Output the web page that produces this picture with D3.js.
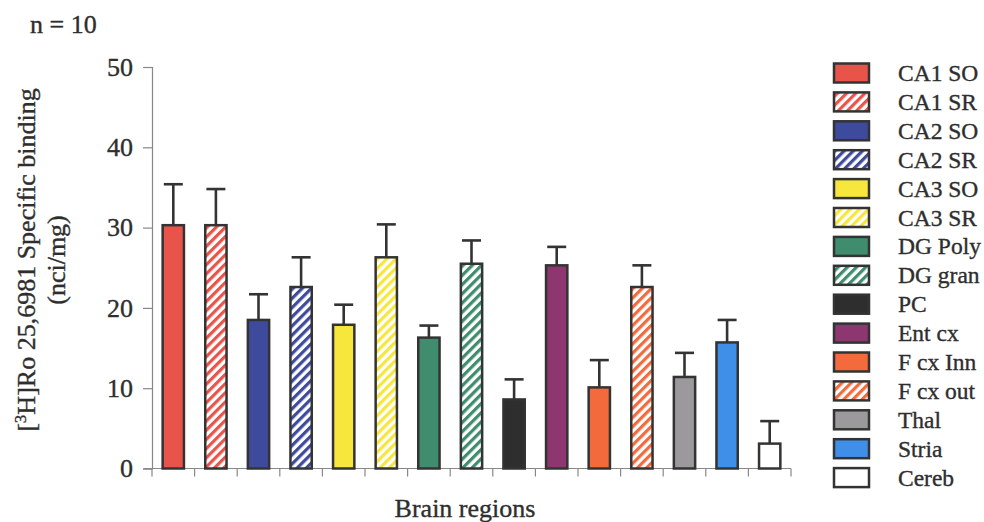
<!DOCTYPE html>
<html>
<head>
<meta charset="utf-8">
<script src="https://cdn.jsdelivr.net/npm/d3@7"></script>
<style>
  html, body { margin: 0; padding: 0; background: #fff; }
  svg { display: block; }
  svg text { font-family: 'Liberation Serif', 'Times New Roman', Tinos, 'DejaVu Serif', serif !important; fill: #2e2e2e; stroke: #2e2e2e; stroke-width: 0.35px; }
</style>
</head>
<body>
<svg id="chart" width="984" height="522"></svg>
<script>
const categories = ["CA1 SO","CA1 SR","CA2 SO","CA2 SR","CA3 SO","CA3 SR","DG Poly","DG gran","PC","Ent cx","F cx Inn","F cx out","Thal","Stria","Cereb"];
const means = [30.3, 30.3, 18.5, 22.6, 17.9, 26.3, 16.3, 25.5, 8.6, 25.3, 10.1, 22.6, 11.4, 15.7, 3.1];
const errors = [5.1, 4.5, 3.2, 3.7, 2.5, 4.1, 1.5, 2.9, 2.5, 2.3, 3.4, 2.7, 3.0, 2.8, 2.8];
const colors = ["#e8534a","#e8534a","#3e4b9c","#3e4b9c","#f7e63c","#f7e63c","#3f8c6e","#3f8c6e","#2e2e2e","#8e3670","#f36a3d","#f36a3d","#9b999b","#3f8fe8","#ffffff"];
const hatched = [false,true,false,true,false,true,false,true,false,false,false,true,false,false,false];
const yTicks = [0, 10, 20, 30, 40, 50];

const FONT = "'Liberation Serif', 'Times New Roman', serif";
const svg = d3.select("#chart").attr("font-family", FONT);
const x = d3.scaleBand().domain(categories).range([152, 791]).paddingInner(0.5).paddingOuter(0.25);
const y = d3.scaleLinear().domain([0, 50]).range([468.5, 67]);

// hatch patterns
const defs = svg.append("defs");
categories.forEach((c, i) => {
  if (!hatched[i]) return;
  const p = defs.append("pattern")
    .attr("id", "hatch" + i)
    .attr("patternUnits", "userSpaceOnUse")
    .attr("width", 6.5).attr("height", 6.5)
    .attr("patternTransform", "rotate(45)");
  p.append("rect").attr("width", 6.5).attr("height", 6.5).attr("fill", "#fff");
  p.append("rect").attr("width", 3.2).attr("height", 6.5).attr("fill", colors[i]);
});
const fillOf = i => hatched[i] ? `url(#hatch${i})` : colors[i];

// y axis
const yAxis = svg.append("g").attr("transform", "translate(152,0)")
  .call(d3.axisLeft(y).tickValues(yTicks).tickSize(9).tickPadding(10));
yAxis.attr("font-family", FONT);
yAxis.select(".domain").attr("stroke", "#888").attr("stroke-width", 1.2);
yAxis.selectAll(".tick line").attr("stroke", "#888").attr("stroke-width", 1.2);
yAxis.selectAll(".tick text").attr("font-size", 26).attr("fill", "#2e2e2e");

// x axis with boundary ticks
const boundaries = d3.range(categories.length + 1).map(i => 152 + i * x.step());
const xg = svg.append("g");
xg.append("line").attr("x1", 144).attr("x2", 791).attr("y1", y(0)).attr("y2", y(0))
  .attr("stroke", "#888").attr("stroke-width", 1.2);
xg.selectAll("line.b").data(boundaries).join("line").attr("class", "b")
  .attr("x1", d => d).attr("x2", d => d).attr("y1", y(0)).attr("y2", y(0) + 8)
  .attr("stroke", "#888").attr("stroke-width", 1.2);

// error bars
const eg = svg.append("g");
categories.forEach((c, i) => {
  const cx = x(c) + x.bandwidth() / 2;
  eg.append("line").attr("x1", cx).attr("x2", cx).attr("y1", y(means[i])).attr("y2", y(means[i] + errors[i]))
    .attr("stroke", "#333").attr("stroke-width", 2.6);
  eg.append("line").attr("x1", cx - 9.5).attr("x2", cx + 9.5).attr("y1", y(means[i] + errors[i])).attr("y2", y(means[i] + errors[i]))
    .attr("stroke", "#333").attr("stroke-width", 2.6);
});

// bars
svg.append("g").selectAll("rect").data(categories).join("rect")
  .attr("x", d => x(d)).attr("width", x.bandwidth())
  .attr("y", (d, i) => y(means[i])).attr("height", (d, i) => y(0) - y(means[i]))
  .attr("fill", (d, i) => fillOf(i))
  .attr("stroke", "#333").attr("stroke-width", 2.5);

// legend
const lg = svg.append("g");
categories.forEach((c, i) => {
  const cy = 73 + i * 28.9;
  lg.append("rect").attr("x", 834).attr("y", cy - 9.5).attr("width", 35).attr("height", 19)
    .attr("fill", fillOf(i)).attr("stroke", "#333").attr("stroke-width", 2.5);
  lg.append("text").attr("x", 898).attr("y", cy + 8).attr("font-size", 23.5).text(c);
});

// titles
svg.append("text").attr("x", 30).attr("y", 33).attr("font-size", 26).text("n = 10");
svg.append("text").attr("x", 465).attr("y", 517).attr("text-anchor", "middle").attr("font-size", 26).text("Brain regions");
const yl = svg.append("text").attr("transform", "translate(35,260) rotate(-90)").attr("text-anchor", "middle").attr("font-size", 26);
yl.append("tspan").text("[");
yl.append("tspan").attr("font-size", 17).attr("dy", -9).text("3");
yl.append("tspan").attr("dy", 9).text("H]Ro 25,6981 Specific binding");
svg.append("text").attr("transform", "translate(65,260) rotate(-90)").attr("text-anchor", "middle").attr("font-size", 26).text("(nci/mg)");
</script>
</body>
</html>
